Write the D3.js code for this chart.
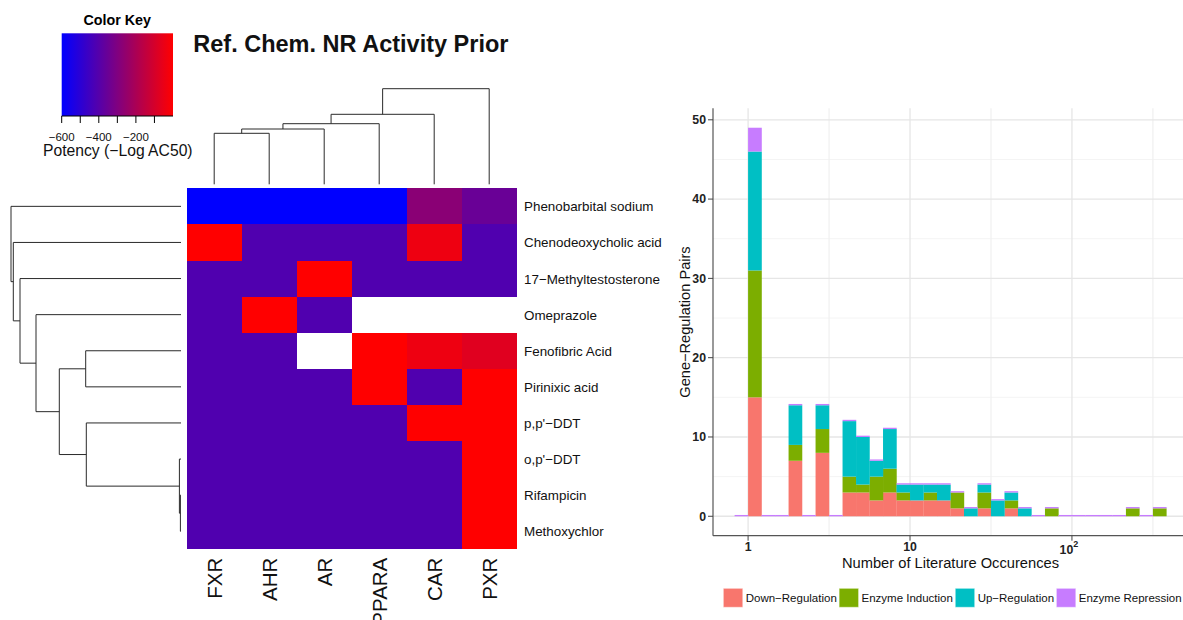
<!DOCTYPE html>
<html><head><meta charset="utf-8">
<script src="https://cdn.jsdelivr.net/npm/d3@7"></script>
<style>body{margin:0;background:#fff} svg{display:block;font-family:"Liberation Sans",Arial,Helvetica,sans-serif}</style>
</head><body><svg id="c" width="1183" height="620"></svg>
<script>
// ---------- heatmap data ----------
const rowNames = ["Phenobarbital sodium","Chenodeoxycholic acid","17\u2212Methyltestosterone","Omeprazole","Fenofibric Acid","Pirinixic acid","p,p'\u2212DDT","o,p'\u2212DDT","Rifampicin","Methoxychlor"];
const colNames = ["FXR","AHR","AR","PPARA","CAR","PXR"];
const N = null;
const potency = [
  [-600,-600,-600,-600,-275,-352],
  [0,-412,-412,-412,-39,-412],
  [-412,-412,0,-412,-412,-412],
  [-412,0,-412,N,N,N],
  [-412,-412,N,0,-39,-72],
  [-412,-412,-412,0,-412,0],
  [-412,-412,-412,-412,0,0],
  [-412,-412,-412,-412,-412,0],
  [-412,-412,-412,-412,-412,0],
  [-412,-412,-412,-412,-412,0]
];
const keyDomain = [-600, 0];
const keyTicks = [-600,-500,-400,-300,-200,-100];
const keyLabels = [-600,-400,-200];
// hclust-style merges: negative = leaf (1-based), positive = earlier merge step; third = height
const rowMerge = [[-9,-10,0.6],[-8,1,1.6],[-7,2,94.7],[-5,-6,95.3],[4,3,121.7],[-4,5,145],[-3,6,161],[-2,7,167.7],[-1,8,170]];
const colMerge = [[-1,-2,51],[1,-3,55.3],[2,-4,60.6],[3,-5,70],[4,-6,95.6]];

// ---------- histogram data ----------
const binStartLog = -1/12, binWidthLog = 1/12;   // bins on log10(occurrences)
const seriesNames = ["Down\u2212Regulation","Enzyme Induction","Up\u2212Regulation","Enzyme Repression"];
const seriesColors = ["#F8766D","#7CAE00","#00BFC4","#C77CFF"];
const downReg   = [0,15,0,0,7,0,8,0,3,3,2,3,2,2,2,2,1,0,1,0,1,0,0,0,0,0,0,0,0,0,0,0];
const enzInd    = [0,16,0,0,2,0,3,0,2,1,3,3,1,0,1,0,2,0,2,0,1,0,0,1,0,0,0,0,0,1,0,1];
const upReg     = [0,15,0,0,5,0,3,0,7,6,2,5,1,2,1,2,0,1,1,2,1,1,0,0,0,0,0,0,0,0,0,0];
const enzRep    = [0,3,0,0,0,0,0,0,0,0,0,0,0,0,0,0,0,0,0,0,0,0,0,0,0,0,0,0,0,0,0,0];
const yTicks = [0,10,20,30,40,50];
const yMinor = [5,15,25,35,45];
const xTicks = [1,10,100];
const xMinor = [Math.sqrt(10), Math.sqrt(1000), Math.sqrt(100000)];

const svg = d3.select("#c");

// ================= HEATMAP =================
const color = d3.scaleLinear().domain(keyDomain).range(["#0000ff","#ff0000"]).interpolate(d3.interpolateRgb);
const xb = d3.scaleBand().domain(colNames).range([186.7, 516.7]);
const yb = d3.scaleBand().domain(rowNames).range([188.3, 549.3]);

const cells = [];
potency.forEach((r,i)=>r.forEach((v,j)=>{ if(v!==null) cells.push({r:rowNames[i],c:colNames[j],v}); }));
svg.append("g").attr("shape-rendering","crispEdges").selectAll("rect").data(cells).join("rect")
  .attr("x",d=>Math.round(xb(d.c))).attr("y",d=>Math.round(yb(d.r)))
  .attr("width",d=>Math.round(xb(d.c)+xb.bandwidth())-Math.round(xb(d.c)))
  .attr("height",d=>Math.round(yb(d.r)+yb.bandwidth())-Math.round(yb(d.r)))
  .attr("fill",d=>color(d.v));

svg.append("g").selectAll("text").data(rowNames).join("text")
  .attr("x",524).attr("y",d=>yb(d)+yb.bandwidth()/2+5)
  .attr("font-size",13.4).attr("fill","#111").text(d=>d);

svg.append("g").selectAll("text").data(colNames).join("text")
  .attr("transform",d=>`translate(${xb(d)+xb.bandwidth()/2+7.5},557.7) rotate(-90)`)
  .attr("text-anchor","end").attr("font-size",20.5).attr("fill","#111").text(d=>d);

function dendro(merges, leafPos){
  const pos=[], hgt=[], segs=[];
  const get = i => i<0 ? {p:leafPos[-i-1],h:0} : {p:pos[i-1],h:hgt[i-1]};
  merges.forEach(([a,b,h],k)=>{
    const A=get(a), B=get(b);
    pos[k]=(A.p+B.p)/2; hgt[k]=h;
    segs.push([A.p,A.h,A.p,h],[B.p,B.h,B.p,h],[A.p,h,B.p,h]);
  });
  return segs;
}
// top (column) dendrogram
const colH = d3.scaleLinear().domain([0, d3.max(colMerge,d=>d[2])]).range([184.3, 88.7]);
const colSegs = dendro(colMerge, colNames.map(c=>xb(c)+xb.bandwidth()/2));
svg.append("g").attr("stroke","#2a2a2a").attr("stroke-width",1).selectAll("line").data(colSegs).join("line")
  .attr("x1",d=>d[0]).attr("y1",d=>colH(d[1])).attr("x2",d=>d[2]).attr("y2",d=>colH(d[3]));
// left (row) dendrogram
const rowH = d3.scaleLinear().domain([0, d3.max(rowMerge,d=>d[2])]).range([181, 11]);
const rowSegs = dendro(rowMerge, rowNames.map(r=>yb(r)+yb.bandwidth()/2));
svg.append("g").attr("stroke","#2a2a2a").attr("stroke-width",1).selectAll("line").data(rowSegs).join("line")
  .attr("y1",d=>d[0]).attr("x1",d=>rowH(d[1])).attr("y2",d=>d[2]).attr("x2",d=>rowH(d[3]));

// color key
const kx = d3.scaleLinear().domain(keyDomain).range([61.7, 173]);
const grad = svg.append("defs").append("linearGradient").attr("id","kg");
d3.range(0,1.0001,0.1).forEach(t=>grad.append("stop").attr("offset",t).attr("stop-color",color(keyDomain[0]+t*(keyDomain[1]-keyDomain[0]))));
svg.append("rect").attr("x",kx(keyDomain[0])).attr("y",33.3).attr("width",kx(keyDomain[1])-kx(keyDomain[0])).attr("height",82.7).attr("fill","url(#kg)");
svg.append("line").attr("x1",kx(keyDomain[0])).attr("x2",kx(keyDomain[1])).attr("y1",116).attr("y2",116).attr("stroke","#000");
svg.append("g").selectAll("line").data(keyTicks).join("line")
  .attr("x1",d=>kx(d)).attr("x2",d=>kx(d)).attr("y1",116).attr("y2",123).attr("stroke","#000");
svg.append("g").selectAll("text").data(keyLabels).join("text")
  .attr("x",d=>kx(d)).attr("y",140.7).attr("text-anchor","middle").attr("font-size",11.5).attr("fill","#111")
  .text(d=>String(d).replace("-","\u2212"));
svg.append("text").attr("x",117.2).attr("y",25).attr("text-anchor","middle").attr("font-size",14.3).attr("font-weight","bold").text("Color Key");
svg.append("text").attr("x",117.8).attr("y",155.7).attr("text-anchor","middle").attr("font-size",15.7).attr("fill","#111").text("Potency (\u2212Log AC50)");
svg.append("text").attr("x",193.3).attr("y",52.3).attr("font-size",23.5).attr("font-weight","bold").attr("fill","#111").text("Ref. Chem. NR Activity Prior");

// ================= HISTOGRAM =================
const pL=713, pR=1188, pT=108.3, pB=535.7;
const x = d3.scaleLog().domain([Math.pow(10,-0.2167), Math.pow(10,2.7167)]).range([pL,pR]);
const y = d3.scaleLinear().domain([-2.45, 51.45]).range([pB,pT]);
const g = svg.append("g");
g.selectAll(".ym").data(yMinor).join("line").attr("x1",pL).attr("x2",pR).attr("y1",d=>y(d)).attr("y2",d=>y(d)).attr("stroke","#f4f4f4").attr("stroke-width",1);
g.selectAll(".xm").data(xMinor).join("line").attr("y1",pT).attr("y2",pB).attr("x1",d=>x(d)).attr("x2",d=>x(d)).attr("stroke","#f0f0f0").attr("stroke-width",1.2);
g.selectAll(".yM").data(yTicks).join("line").attr("x1",pL).attr("x2",pR).attr("y1",d=>y(d)).attr("y2",d=>y(d)).attr("stroke","#e6e6e6").attr("stroke-width",1.3);
g.selectAll(".xM").data(xTicks).join("line").attr("y1",pT).attr("y2",pB).attr("x1",d=>x(d)).attr("x2",d=>x(d)).attr("stroke","#e6e6e6").attr("stroke-width",1.3);

const bins = downReg.map((d,i)=>({
  lo: Math.pow(10, binStartLog + i*binWidthLog),
  hi: Math.pow(10, binStartLog + (i+1)*binWidthLog),
  s0: downReg[i], s1: enzInd[i], s2: upReg[i], s3: enzRep[i]
}));
const stack = d3.stack().keys(["s0","s1","s2","s3"])(bins);
stack.forEach((layer,li)=>{
  g.append("g").attr("fill",seriesColors[li]).selectAll("rect").data(layer).join("rect")
    .attr("x",d=>x(d.data.lo)).attr("width",d=>x(d.data.hi)-x(d.data.lo)+0.2)
    .attr("y",d=> li===3 ? Math.min(y(d[1]), y(d[0])-1.3) : y(d[1]))
    .attr("height",d=> li===3 ? Math.max(y(d[0])-y(d[1]),1.3) : y(d[0])-y(d[1]));
});

// axes
g.append("line").attr("x1",pL).attr("x2",pL).attr("y1",pT).attr("y2",pB).attr("stroke","#555").attr("stroke-width",1.2);
g.append("line").attr("x1",pL).attr("x2",pR).attr("y1",pB).attr("y2",pB).attr("stroke","#555").attr("stroke-width",1.2);
g.selectAll(".yt").data(yTicks).join("line").attr("x1",pL-5).attr("x2",pL).attr("y1",d=>y(d)).attr("y2",d=>y(d)).attr("stroke","#444");
g.selectAll(".ytl").data(yTicks).join("text").attr("x",pL-7).attr("y",d=>y(d)+4.3).attr("text-anchor","end")
  .attr("font-size",12.3).attr("font-weight","bold").attr("fill","#222").text(d=>d);
g.selectAll(".xt").data(xTicks).join("line").attr("y1",pB).attr("y2",pB+5).attr("x1",d=>x(d)).attr("x2",d=>x(d)).attr("stroke","#444");
xTicks.forEach(t=>{
  const e = Math.round(Math.log10(t));
  if(e<2){
    g.append("text").attr("x",x(t)).attr("y",551).attr("text-anchor","middle").attr("font-size",12.3).attr("font-weight","bold").attr("fill","#222").text(String(t));
  } else {
    const tx = g.append("text").attr("x",x(t)-3).attr("y",554).attr("text-anchor","middle").attr("font-size",12.3).attr("font-weight","bold").attr("fill","#222");
    tx.append("tspan").text("10");
    tx.append("tspan").attr("dy",-7).attr("font-size",9).text(String(e));
  }
});
g.append("text").attr("x",(pL+pR)/2).attr("y",568.3).attr("text-anchor","middle").attr("font-size",14.7).attr("fill","#111").text("Number of Literature Occurences");
g.append("text").attr("transform",`translate(690,${(pT+pB)/2}) rotate(-90)`).attr("text-anchor","middle").attr("font-size",14.6).attr("fill","#111").text("Gene\u2212Regulation Pairs");

// legend
let lx = 723.3;
seriesNames.forEach((n,i)=>{
  g.append("rect").attr("x",lx).attr("y",588.3).attr("width",19.5).attr("height",19).attr("fill",seriesColors[i])
    .attr("stroke","#fff").attr("stroke-opacity",0.5).attr("stroke-width",1);
  const t = g.append("text").attr("x",lx+22.4).attr("y",601.7).attr("font-size",11.5).attr("fill","#111").text(n);
  lx = lx + 22.4 + t.node().getComputedTextLength() + 2.3;
});
</script></body></html>
